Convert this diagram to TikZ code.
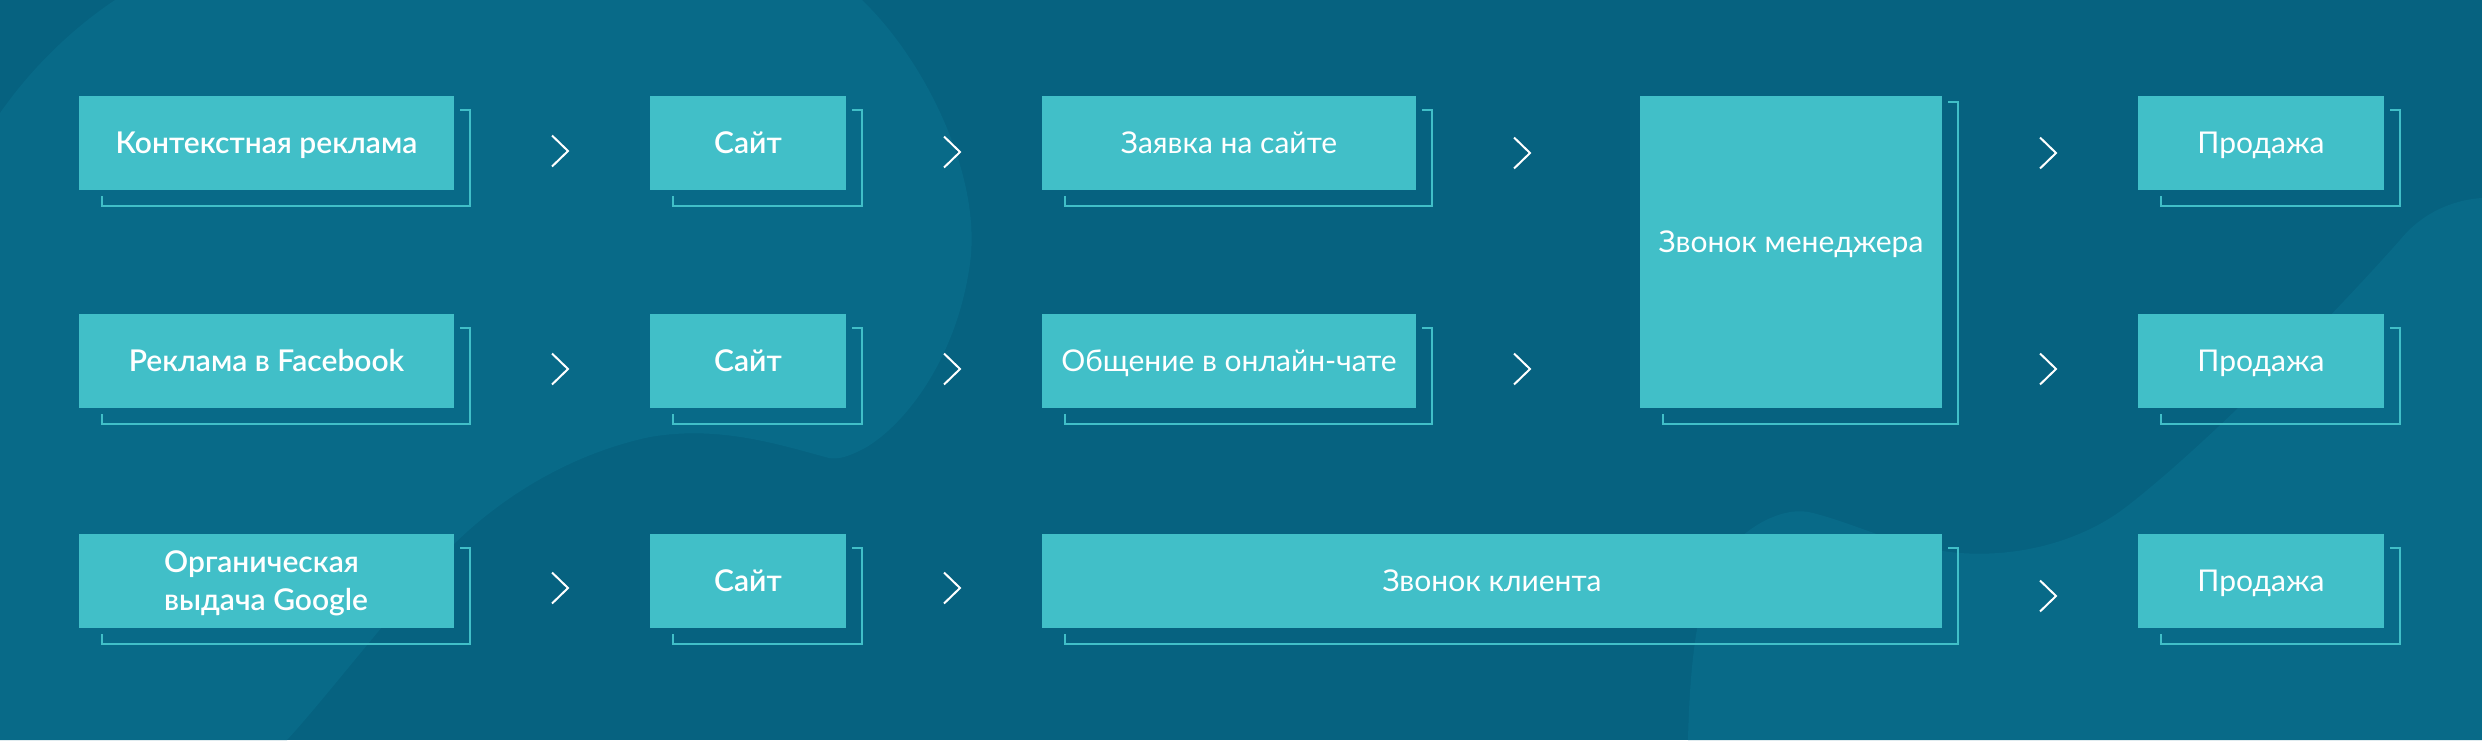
\documentclass[tikz,border=0pt]{standalone}
\usepackage{fontspec}
\setmainfont{Lato}
\newfontfamily\medfont{Lato Semibold}
\definecolor{bgc}{HTML}{066280}
\definecolor{blobc}{HTML}{086A88}
\definecolor{boxc}{HTML}{41BFC8}
\newcommand\brk[2][14]{\draw[brkline] ([xshift=6pt,yshift=-#1pt]#2.north east) -- ([xshift=16pt,yshift=-#1pt]#2.north east) -- ([xshift=16pt,yshift=-16pt]#2.south east) -- ([xshift=23pt,yshift=-16pt]#2.south west) -- ([xshift=23pt,yshift=-6pt]#2.south west);}
\begin{document}
\begin{tikzpicture}[x=1pt,y=-1pt,
  box/.style={rectangle, fill=boxc, inner sep=0pt, text=white, font=\fontsize{30}{38}\selectfont, text height=21.5pt, text depth=0pt},
  medbox/.style={box, font=\medfont\fontsize{30}{38}\selectfont},
  txt/.style={inner sep=0pt, text=white, font=\fontsize{30}{38}\selectfont, text height=21.5pt, text depth=0pt},
  medtxt/.style={inner sep=0pt, text=white, font=\medfont\fontsize{30}{38}\selectfont},
  brkline/.style={draw=boxc, line width=2.2pt},
  chevline/.style={draw=white, line width=2pt, line join=miter},
  chev/.pic={\draw[chevline] (-8,-15.5) -- (8,0) -- (-8,15.5);}
]
\useasboundingbox (0,0) rectangle (2482,740);
% background
\fill[bgc] (0,0) rectangle (2482,740);
\fill[blobc] (115,0) -- (862,0) .. controls (925,60) and (985,180) .. (969,270)
  .. controls (955,360) and (905,425) .. (865,448) .. controls (850,456) and (838,460) .. (829,458)
  .. controls (780,445) and (720,425) .. (650,437) .. controls (565,455) and (485,505) .. (430,570)
  .. controls (370,640) and (315,710) .. (287,740) -- (0,740) -- (0,113)
  .. controls (30,70) and (70,30) .. (115,0) -- cycle;
\fill[blobc] (1688,740) .. controls (1690,650) and (1700,590) .. (1720,560)
  .. controls (1745,525) and (1785,505) .. (1813,513) .. controls (1860,525) and (1900,548) .. (1960,553)
  .. controls (2030,558) and (2090,535) .. (2126,507) .. controls (2200,450) and (2320,330) .. (2400,240)
  .. controls (2420,215) and (2450,200) .. (2482,198) -- (2482,740) -- cycle;
% row 1
\node[medbox, minimum width=375pt, minimum height=94pt] (a1) at (266.5,143) {Контекстная реклама};
\node[medbox, minimum width=196pt, minimum height=94pt] (a2) at (748,143) {Сайт};
\node[box, minimum width=374pt, minimum height=94pt] (a3) at (1229,143) {Заявка на сайте};
\node[box, minimum width=302pt, minimum height=312pt] (m) at (1791,252) {};
\node[txt] (mt) at (1791,242) {Звонок менеджера};
\node[box, minimum width=246pt, minimum height=94pt] (a5) at (2261,143) {Продажа};
% row 2
\node[medbox, minimum width=375pt, minimum height=94pt] (b1) at (266.5,361) {Реклама в Facebook};
\node[medbox, minimum width=196pt, minimum height=94pt] (b2) at (748,361) {Сайт};
\node[box, minimum width=374pt, minimum height=94pt] (b3) at (1229,361) {Общение в онлайн-чате};
\node[box, minimum width=246pt, minimum height=94pt] (b5) at (2261,361) {Продажа};
% row 3
\node[box, minimum width=375pt, minimum height=94pt] (c1) at (266.5,581) {};
\node[medtxt, anchor=base west] (c1a) at (164,572) {Органическая};
\node[medtxt, anchor=base west] (c1b) at (164,610) {выдача Google};
\node[medbox, minimum width=196pt, minimum height=94pt] (c2) at (748,581) {Сайт};
\node[box, minimum width=900pt, minimum height=94pt] (c3) at (1492,581) {Звонок клиента};
\node[box, minimum width=246pt, minimum height=94pt] (c5) at (2261,581) {Продажа};
% brackets
\brk{a1}\brk{a2}\brk{a3}\brk[6]{m}\brk{a5}
\brk{b1}\brk{b2}\brk{b3}\brk{b5}
\brk{c1}\brk{c2}\brk{c3}\brk{c5}
% chevrons
\pic (ch11) at (560,151) {chev};
\pic (ch12) at (952,152) {chev};
\pic (ch13) at (1522,153) {chev};
\pic (ch14) at (2048,153) {chev};
\pic (ch21) at (560,369) {chev};
\pic (ch22) at (952,369) {chev};
\pic (ch23) at (1522,369) {chev};
\pic (ch24) at (2048,369) {chev};
\pic (ch31) at (560,588) {chev};
\pic (ch32) at (952,588) {chev};
\pic (ch34) at (2048,596) {chev};
\end{tikzpicture}
\end{document}
